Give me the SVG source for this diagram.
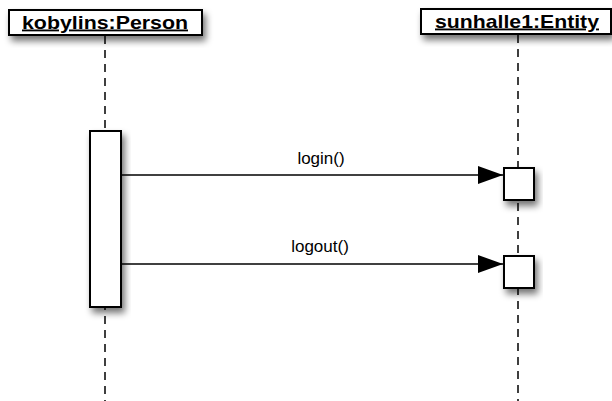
<svg xmlns="http://www.w3.org/2000/svg" width="612" height="401" viewBox="0 0 612 401">
<style>
.box{fill:#fff;stroke:#000;stroke-width:2}
.life{stroke:#000;stroke-width:1.5;stroke-dasharray:8,6;fill:none}
.msg{stroke:#000;stroke-width:1.5;fill:none}
.hdr{font-family:"Liberation Sans",Arial,sans-serif;font-size:18.5px;font-weight:bold;text-decoration:underline;text-anchor:middle}
.lbl{font-family:"Liberation Sans",Arial,sans-serif;font-size:17px;text-anchor:middle}
</style>
<defs>
<filter id="sh" x="-30%" y="-30%" width="160%" height="180%">
<feGaussianBlur in="SourceAlpha" stdDeviation="3.5"/>
<feOffset dx="3" dy="5" result="b"/>
<feComponentTransfer><feFuncA type="linear" slope="0.55"/></feComponentTransfer>
<feMerge><feMergeNode/><feMergeNode in="SourceGraphic"/></feMerge>
</filter>
<marker id="arr" markerWidth="26" markerHeight="20" refX="25" refY="10" orient="auto" markerUnits="userSpaceOnUse">
<path d="M0,1 L25,10 L0,19 Z" fill="#000"/>
</marker>
</defs>
<g id="lifelines">
<line class="life" x1="105" y1="36" x2="105" y2="401"/>
<line class="life" x1="518" y1="35" x2="518" y2="401"/>
</g>
<g id="person">
<rect class="box" x="9" y="10" width="193" height="25" filter="url(#sh)"/>
<text class="hdr" x="105" y="28.5" textLength="166" lengthAdjust="spacingAndGlyphs">kobylins:Person</text>
</g>
<g id="entity">
<rect class="box" x="421" y="9" width="190" height="25" filter="url(#sh)"/>
<text class="hdr" x="517" y="27.5" textLength="164" lengthAdjust="spacingAndGlyphs">sunhalle1:Entity</text>
</g>
<g id="activation">
<rect class="box" x="90" y="131" width="31" height="176" filter="url(#sh)"/>
</g>
<g id="act1">
<rect class="box" x="504" y="168" width="30" height="32" filter="url(#sh)"/>
</g>
<g id="act2">
<rect class="box" x="504" y="256" width="30" height="32" filter="url(#sh)"/>
</g>
<g id="connectors">
<line class="msg" x1="121" y1="175" x2="503" y2="175" marker-end="url(#arr)"/>
<line class="msg" x1="121" y1="264" x2="503" y2="264" marker-end="url(#arr)"/>
</g>
<g id="labels">
<text class="lbl" x="321" y="164">login()</text>
<text class="lbl" x="320" y="252">logout()</text>
</g>
</svg>
